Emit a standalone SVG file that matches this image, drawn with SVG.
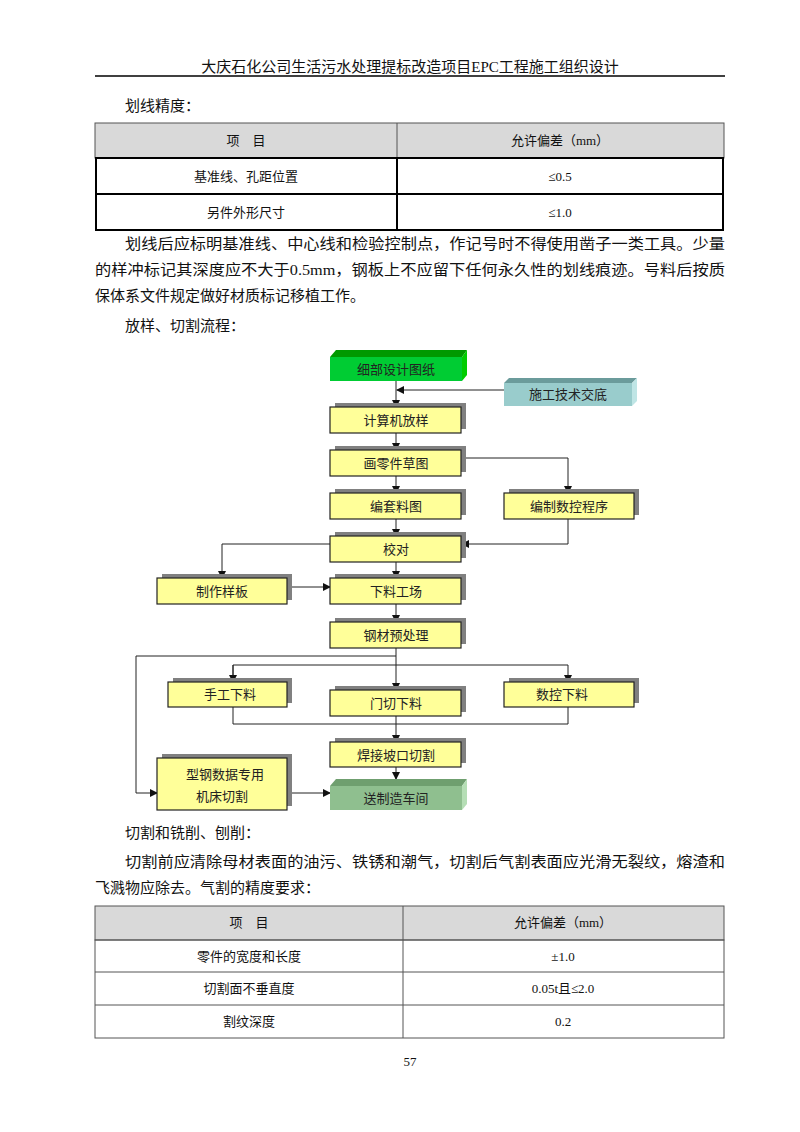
<svg xmlns="http://www.w3.org/2000/svg" width="800" height="1132" viewBox="0 0 800 1132">
<style>
.t{font-family:"Liberation Serif","Noto Sans CJK SC",serif;font-size:15px;fill:#111}
.s{font-family:"Liberation Serif","Noto Sans CJK SC",serif;font-size:13px;fill:#111}
.b{font-family:"Noto Sans CJK SC",sans-serif;font-size:13px;fill:#222;text-anchor:middle}
.box{fill:#ffff99;stroke:#222;stroke-width:1.2}
.sh{fill:#808080}
.ln{fill:none;stroke:#222;stroke-width:1}
</style>
<defs><marker id="a" markerWidth="8" markerHeight="8" refX="7" refY="4" orient="auto" markerUnits="userSpaceOnUse"><path d="M0,0L8,4L0,8z" fill="#111"/></marker></defs>
<rect width="800" height="1132" fill="#fff"/>
<text x="410" y="72" class="t" text-anchor="middle" font-size="14">大庆石化公司生活污水处理提标改造项目EPC工程施工组织设计</text>
<line x1="95" y1="76" x2="725" y2="76" stroke="#000" stroke-width="1.5"/>
<text x="125" y="111" class="t">划线精度：</text>
<rect x="95" y="123" width="629" height="35" fill="#d9d9d9" stroke="#555"/>
<line x1="397" y1="123" x2="397" y2="158" stroke="#555"/>
<rect x="96" y="158" width="627" height="72" fill="none" stroke="#000" stroke-width="2"/>
<line x1="96" y1="194" x2="723" y2="194" stroke="#000" stroke-width="2"/>
<line x1="397" y1="158" x2="397" y2="230" stroke="#000" stroke-width="2"/>
<text x="246" y="145" class="s" text-anchor="middle">项　目</text>
<text x="560" y="145" class="s" text-anchor="middle">允许偏差（mm）</text>
<text x="246" y="181" class="s" text-anchor="middle">基准线、孔距位置</text>
<text x="560" y="181" class="s" text-anchor="middle">≤0.5</text>
<text x="246" y="217" class="s" text-anchor="middle">另件外形尺寸</text>
<text x="560" y="217" class="s" text-anchor="middle">≤1.0</text>
<text x="125" y="249" class="t" textLength="600" lengthAdjust="spacingAndGlyphs">划线后应标明基准线、中心线和检验控制点，作记号时不得使用凿子一类工具。少量</text>
<text x="95" y="275" class="t" textLength="630" lengthAdjust="spacingAndGlyphs">的样冲标记其深度应不大于0.5mm，钢板上不应留下任何永久性的划线痕迹。号料后按质</text>
<text x="95" y="301" class="t">保体系文件规定做好材质标记移植工作。</text>
<text x="125" y="331" class="t">放样、切割流程：</text>

<g id="connectors">
<path class="ln" d="M396,381V407" marker-end="url(#a)"/>
<path class="ln" d="M504,390H397" marker-end="url(#a)"/>
<path class="ln" d="M396,433V450" marker-end="url(#a)"/>
<path class="ln" d="M396,476V493" marker-end="url(#a)"/>
<path class="ln" d="M461,458H568V493" marker-end="url(#a)"/>
<path class="ln" d="M396,519V536" marker-end="url(#a)"/>
<path class="ln" d="M568,519V544H462" marker-end="url(#a)"/>
<path class="ln" d="M330,544H222V578" marker-end="url(#a)"/>
<path class="ln" d="M396,562V578" marker-end="url(#a)"/>
<path class="ln" d="M287,587H330" marker-end="url(#a)"/>
<path class="ln" d="M396,604V622" marker-end="url(#a)"/>
<path class="ln" d="M396,648V690" marker-end="url(#a)"/>
<path class="ln" d="M396,656H136V793H157" marker-end="url(#a)"/>
<path class="ln" d="M233,682V665H568V682" marker-end="url(#a)"/>
<path class="ln" d="M233,665V682" marker-end="url(#a)"/>
<path class="ln" d="M233,707V724H568V707"/>
<path class="ln" d="M396,716V742" marker-end="url(#a)"/>
<path class="ln" d="M396,767V779" marker-end="url(#a)"/>
<path class="ln" d="M287,793H330" marker-end="url(#a)"/>
</g>

<g id="n1"><path d="M330,357L336,350H467L462,357z" fill="#009900"/><path d="M462,357L467,350V375L462,381z" fill="#00cc00"/><rect x="330" y="357" width="132" height="24" fill="#00cc33"/><text x="396" y="374" class="b">细部设计图纸</text></g>
<g id="n2"><path d="M504,383L509,378H637L632,383z" fill="#6b9b9b"/><path d="M632,383L637,378V401L632,406z" fill="#bfe5e5"/><rect x="504" y="383" width="128" height="23" fill="#99cccc"/><text x="568" y="399" class="b">施工技术交底</text></g>
<g id="n3"><rect x="335" y="403" width="131" height="26" class="sh"/><rect x="330" y="407" width="131" height="26" class="box"/><text x="396" y="425" class="b">计算机放样</text></g>
<g id="n4"><rect x="335" y="446" width="131" height="26" class="sh"/><rect x="330" y="450" width="131" height="26" class="box"/><text x="396" y="468" class="b">画零件草图</text></g>
<g id="n5"><rect x="335" y="489" width="131" height="26" class="sh"/><rect x="330" y="493" width="131" height="26" class="box"/><text x="396" y="511" class="b">编套料图</text></g>
<g id="n6"><rect x="509" y="489" width="130" height="26" class="sh"/><rect x="504" y="493" width="130" height="26" class="box"/><text x="569" y="511" class="b">编制数控程序</text></g>
<g id="n7"><rect x="335" y="532" width="131" height="26" class="sh"/><rect x="330" y="536" width="131" height="26" class="box"/><text x="396" y="554" class="b">校对</text></g>
<g id="n8"><rect x="162" y="574" width="130" height="26" class="sh"/><rect x="157" y="578" width="130" height="26" class="box"/><text x="222" y="596" class="b">制作样板</text></g>
<g id="n9"><rect x="335" y="574" width="131" height="26" class="sh"/><rect x="330" y="578" width="131" height="26" class="box"/><text x="396" y="596" class="b">下料工场</text></g>
<g id="n10"><rect x="335" y="618" width="131" height="26" class="sh"/><rect x="330" y="622" width="131" height="26" class="box"/><text x="396" y="640" class="b">钢材预处理</text></g>
<g id="n11"><rect x="173" y="678" width="119" height="25" class="sh"/><rect x="168" y="682" width="119" height="25" class="box"/><text x="230" y="699" class="b">手工下料</text></g>
<g id="n12"><rect x="335" y="686" width="131" height="26" class="sh"/><rect x="330" y="690" width="131" height="26" class="box"/><text x="396" y="708" class="b">门切下料</text></g>
<g id="n13"><rect x="509" y="678" width="130" height="25" class="sh"/><rect x="504" y="682" width="130" height="25" class="box"/><text x="562" y="699" class="b">数控下料</text></g>
<g id="n14"><rect x="335" y="738" width="131" height="25" class="sh"/><rect x="330" y="742" width="131" height="25" class="box"/><text x="396" y="760" class="b">焊接坡口切割</text></g>
<g id="n15"><rect x="162" y="754" width="130" height="52" class="sh"/><rect x="157" y="758" width="130" height="52" class="box"/><text x="225" y="779" class="b">型钢数据专用</text><text x="222" y="801" class="b">机床切割</text></g>
<g id="n16"><path d="M330,786L336,779H467L462,786z" fill="#6f9f6f"/><path d="M462,786L467,779V804L462,810z" fill="#b5deb5"/><rect x="330" y="786" width="132" height="24" fill="#8fbf8f"/><text x="396" y="803" class="b">送制造车间</text></g>

<text x="125" y="838" class="t">切割和铣削、刨削：</text>
<text x="125" y="867" class="t" textLength="600" lengthAdjust="spacingAndGlyphs">切割前应清除母材表面的油污、铁锈和潮气，切割后气割表面应光滑无裂纹，熔渣和</text>
<text x="95" y="893" class="t">飞溅物应除去。气割的精度要求：</text>
<rect x="95" y="906" width="629" height="34" fill="#d9d9d9" stroke="#555"/>
<rect x="95" y="940" width="629" height="98" fill="none" stroke="#555"/>
<line x1="95" y1="972" x2="724" y2="972" stroke="#555"/>
<line x1="95" y1="1005" x2="724" y2="1005" stroke="#555"/>
<line x1="403" y1="906" x2="403" y2="1038" stroke="#555"/>
<text x="249" y="927" class="s" text-anchor="middle">项　目</text>
<text x="563" y="927" class="s" text-anchor="middle">允许偏差（mm）</text>
<text x="249" y="961" class="s" text-anchor="middle">零件的宽度和长度</text>
<text x="563" y="961" class="s" text-anchor="middle">±1.0</text>
<text x="249" y="993" class="s" text-anchor="middle">切割面不垂直度</text>
<text x="563" y="993" class="s" text-anchor="middle">0.05t且≤2.0</text>
<text x="249" y="1026" class="s" text-anchor="middle">割纹深度</text>
<text x="563" y="1026" class="s" text-anchor="middle">0.2</text>
<text x="410" y="1066" class="s" text-anchor="middle" font-size="12">57</text>
</svg>
